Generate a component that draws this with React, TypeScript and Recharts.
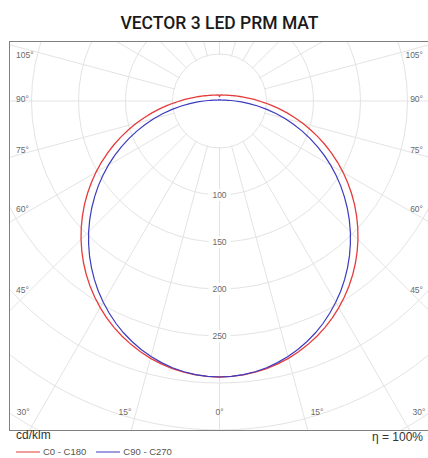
import React from 'react';
import { RadarChart, Radar, PolarGrid, PolarAngleAxis, PolarRadiusAxis, Legend } from 'recharts';

// ---------- data ----------
const title = 'VECTOR 3 LED PRM MAT';
const unitLabel = 'cd/klm';
const efficiencyLabel = 'η = 100%';

// gamma angles (deg from nadir) at which the intensities are read
const gammaAngles = [
  0, 2.5, 5, 7.5, 10, 12.5, 15, 17.5, 20, 22.5, 25, 27.5, 30, 32.5, 35, 37.5, 40, 42.5, 45, 47.5,
  50, 52.5, 55, 57.5, 60, 62.5, 65, 67.5, 70, 72.5, 75, 77.5, 80, 82.5, 85, 87.5, 90, 92.5, 95, 97.5,
  100, 102.5, 105, 107.5, 110, 112.5, 115, 117.5, 120, 122.5, 125, 127.5, 130, 132.5, 135, 137.5, 140, 142.5, 145, 147.5,
  150, 152.5, 155, 157.5, 160, 162.5, 165, 167.5, 170, 172.5, 175, 177.5, 180,
];
// C0 - C180 plane (cd/klm)
const c0 = [
  293.6, 293.3, 292.5, 291.0, 289.0, 286.5, 283.4, 279.7, 275.5, 270.8, 265.7, 260.0, 253.8, 247.2, 240.2, 232.8, 225.0, 216.8, 208.3, 199.5,
  190.4, 181.1, 171.5, 161.7, 151.8, 141.8, 131.7, 121.6, 111.5, 101.5, 91.7, 82.1, 73.0, 64.3, 56.3, 49.0, 42.5, 36.9, 32.1, 28.1,
  24.8, 22.1, 19.8, 17.9, 16.3, 15.0, 13.8, 12.9, 12.0, 11.3, 10.7, 10.1, 9.6, 9.2, 8.8, 8.5, 8.2, 7.9, 7.7, 7.5,
  7.3, 7.2, 7.0, 6.9, 6.8, 6.7, 6.6, 6.5, 6.5, 6.4, 6.3, 5.6, 4.2,
];
const c180 = [
  293.6, 293.3, 292.5, 291.0, 289.0, 286.5, 283.4, 279.7, 275.5, 270.8, 265.7, 260.0, 253.8, 247.2, 240.2, 232.8, 225.0, 216.8, 208.3, 199.5,
  190.4, 181.1, 171.5, 161.7, 151.8, 141.8, 131.7, 121.6, 111.5, 101.5, 91.7, 82.1, 73.0, 64.3, 56.3, 49.0, 42.5, 36.9, 32.1, 28.1,
  24.8, 22.1, 19.8, 17.9, 16.3, 15.0, 13.8, 12.9, 12.0, 11.3, 10.7, 10.1, 9.6, 9.2, 8.8, 8.5, 8.2, 7.9, 7.7, 7.5,
  7.3, 7.2, 7.0, 6.9, 6.8, 6.7, 6.6, 6.5, 6.5, 6.4, 6.3, 5.6, 4.2,
];
// C90 - C270 plane (cd/klm)
const c90 = [
  293.6, 293.3, 292.2, 290.5, 288.2, 285.1, 281.5, 277.2, 272.3, 266.9, 260.9, 254.3, 247.3, 239.9, 232.0, 223.7, 215.1, 206.1, 196.9, 187.3,
  177.5, 167.5, 157.4, 147.0, 136.5, 125.9, 115.2, 104.4, 93.6, 82.9, 72.1, 61.5, 51.1, 41.0, 31.7, 23.4, 16.7, 12.0, 8.8, 6.8,
  5.5, 4.6, 3.9, 3.4, 3.0, 2.7, 2.5, 2.3, 2.1, 2.0, 1.8, 1.7, 1.6, 1.6, 1.5, 1.4, 1.4, 1.3, 1.3, 1.3,
  1.2, 1.2, 1.2, 1.1, 1.1, 1.1, 1.1, 1.1, 1.1, 1.1, 1.1, 1.1, 1.1,
];
const c270 = [
  293.6, 293.3, 292.2, 290.5, 288.2, 285.1, 281.5, 277.2, 272.3, 266.9, 260.9, 254.3, 247.3, 239.9, 232.0, 223.7, 215.1, 206.1, 196.9, 187.3,
  177.5, 167.5, 157.4, 147.0, 136.5, 125.9, 115.2, 104.4, 93.6, 82.9, 72.1, 61.5, 51.1, 41.0, 31.7, 23.4, 16.7, 12.0, 8.8, 6.8,
  5.5, 4.6, 3.9, 3.4, 3.0, 2.7, 2.5, 2.3, 2.1, 2.0, 1.8, 1.7, 1.6, 1.6, 1.5, 1.4, 1.4, 1.3, 1.3, 1.3,
  1.2, 1.2, 1.2, 1.1, 1.1, 1.1, 1.1, 1.1, 1.1, 1.1, 1.1, 1.1, 1.1,
];
const seriesNames = ['C0 - C180', 'C90 - C270'];
const radiusDomain = [0, 450];
const radiusTickCount = 10;
const radiusLabels = [100, 150, 200, 250];
const gridStep = 15;
const maxLabeledGamma = 105;
const innerBlankValue = 49;

// full-circle direction table (0 = nadir, round through one half-plane then the opposite one)
const stepDeg = gammaAngles[1] - gammaAngles[0];
const directions: number[] = [];
for (let i = 0; i * stepDeg < 360; i++) directions.push(i * stepDeg);

const data = directions.map((dir) => {
  const first = dir <= 180;
  const g = first ? dir : 360 - dir;
  const k = gammaAngles.indexOf(g);
  return {
    dir,
    a: first ? c0[k] : c180[k],
    b: first ? c90[k] : c270[k],
    blank: innerBlankValue,
  };
});

// ---------- layout ----------
const W = 419;
const H = 388;
const CX = 209.5;
const CY = 59;
const OUTER_R = 423;
const START = -90;
const END = -450;

const gridDirs: number[] = [];
for (let d = 0; d < 360; d += gridStep) gridDirs.push(d);
const gridAngles = gridDirs.map((d) => START + (d * (END - START)) / 360);

const labelFont = '"Liberation Sans", Arial, sans-serif';

const RadiusTick = (props: any) => {
  const { x, y, payload } = props;
  if (!radiusLabels.includes(Number(payload.value))) return null;
  return (
    <g>
      <rect x={x - 11} y={y - 6} width={22} height={12} fill="#ffffff" />
      <text x={x} y={y} textAnchor="middle" dominantBaseline="central" fontSize={8.5} fill="#6a6a6a" fontFamily={labelFont}>
        {payload.value}
      </text>
    </g>
  );
};

const AngleTick = (props: any) => {
  const { payload } = props;
  const dir = Number(payload.value);
  if (dir % gridStep !== 0) return null;
  const gamma = dir <= 180 ? dir : 360 - dir;
  if (gamma > maxLabeledGamma) return null;
  const rad = (payload.coordinate * Math.PI) / 180;
  const ux = Math.cos(rad);
  const uy = -Math.sin(rad);
  const eps = 1e-6;
  const tSide = Math.abs(ux) > eps ? (ux < 0 ? CX : W - CX) / Math.abs(ux) : Infinity;
  const tBottom = uy > eps ? (H - CY) / uy : Infinity;
  const label = `${gamma}°`;
  const common = { fontSize: 8.5, fill: '#6a6a6a', fontFamily: labelFont, dominantBaseline: 'central' as const };
  if (tBottom <= tSide) {
    const xb = CX + ux * tBottom;
    const anchor = ux < -eps ? 'end' : ux > eps ? 'start' : 'middle';
    const xt = anchor === 'start' ? xb + 3 : xb;
    return (
      <text x={xt} y={H - 18} textAnchor={anchor} {...common}>
        {label}
      </text>
    );
  }
  const xRef = ux < 0 ? 16 : W - 16;
  let y = CY + uy * (Math.abs(xRef - CX) / Math.abs(ux)) - 2 - 0.015 * Math.abs(uy * (xRef - CX) / ux);
  if (y < 13) y = 13;
  return (
    <text x={ux < 0 ? 6 : W - 6} y={y} textAnchor={ux < 0 ? 'start' : 'end'} {...common}>
      {label}
    </text>
  );
};

const LegendContent = (props: any) => {
  const payload = (props.payload || []).filter((e: any) => e.type !== 'none');
  return (
    <div style={{ display: 'flex', alignItems: 'center', fontFamily: labelFont, fontSize: 9.5, color: '#555' }}>
      {payload.map((entry: any, i: number) => (
        <span key={i} style={{ display: 'inline-flex', alignItems: 'center', marginRight: 10 }}>
          <svg width={24} height={6} style={{ display: 'block' }}>
            <line x1={0} y1={3} x2={24} y2={3} stroke={entry.color || entry.payload?.stroke} strokeWidth={1} />
          </svg>
          <span style={{ marginLeft: 3 }}>{entry.value}</span>
        </span>
      ))}
    </div>
  );
};

export default function App() {
  return (
    <div style={{ position: 'absolute', left: 0, top: 0, width: 428, height: 458, background: '#fff', overflow: 'hidden' }}>
      <div
        style={{
          position: 'absolute',
          left: 10,
          top: 12,
          width: W,
          textAlign: 'center',
          fontFamily: 'Roboto, sans-serif',
          fontWeight: 500,
          fontSize: 17.5,
          color: '#1a1a1a',
          lineHeight: '22px',
        }}
      >
        {title}
      </div>
      <div style={{ position: 'absolute', left: 10, top: 42, width: W, height: H }}>
        <RadarChart
          width={W}
          height={H}
          cx={CX}
          cy={CY}
          outerRadius={OUTER_R}
          startAngle={START}
          endAngle={END}
          data={data}
          margin={{ top: 0, right: 0, bottom: 0, left: 0 }}
        >
          <PolarGrid gridType="circle" polarAngles={gridAngles} stroke="#e3e3e3" strokeWidth={1} />
          <PolarAngleAxis dataKey="dir" axisLine={false} tickLine={false} tick={<AngleTick />} />
          <PolarRadiusAxis angle={-90} domain={radiusDomain} tickCount={radiusTickCount} axisLine={false} tick={<RadiusTick />} />
          <Radar
            dataKey="blank"
            stroke="none"
            fill="#ffffff"
            fillOpacity={1}
            legendType="none"
            isAnimationActive={false}
          />
          <Radar
            name={seriesNames[0]}
            dataKey="a"
            stroke="#e63b3b"
            strokeWidth={1.3}
            fill="none"
            fillOpacity={0}
            legendType="plainline"
            isAnimationActive={false}
          />
          <Radar
            name={seriesNames[1]}
            dataKey="b"
            stroke="#3b3bbf"
            strokeWidth={1.2}
            fill="none"
            fillOpacity={0}
            legendType="plainline"
            isAnimationActive={false}
          />
          <Legend
            content={<LegendContent />}
            wrapperStyle={{ position: 'absolute', left: 6, top: H + 16, width: 300, height: 12 }}
          />
        </RadarChart>
      </div>
      <div
        style={{
          position: 'absolute',
          left: 9,
          top: 41,
          width: W,
          height: H,
          border: '1px solid #808080',
          pointerEvents: 'none',
        }}
      />
      <div
        style={{
          position: 'absolute',
          left: 16,
          top: 428,
          fontFamily: labelFont,
          fontSize: 12,
          color: '#333',
          lineHeight: '14px',
        }}
      >
        {unitLabel}
      </div>
      <div
        style={{
          position: 'absolute',
          right: 5,
          top: 430,
          fontFamily: labelFont,
          fontSize: 12,
          color: '#333',
          lineHeight: '14px',
        }}
      >
        {efficiencyLabel}
      </div>
    </div>
  );
}
